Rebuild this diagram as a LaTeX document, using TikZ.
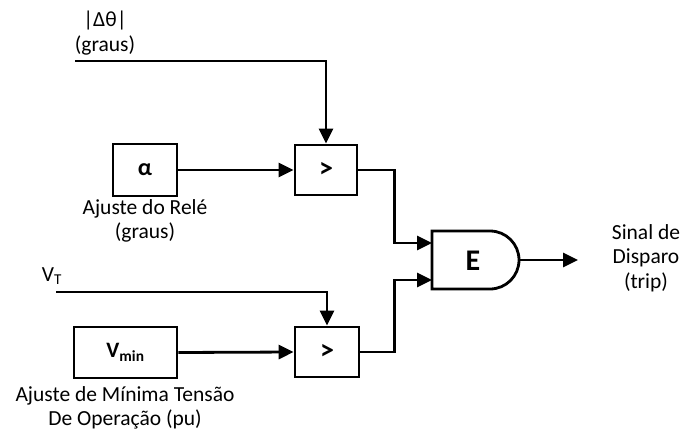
\documentclass[tikz,border=0pt]{standalone}
\usepackage{fontspec}
\setmainfont{Carlito}
\usetikzlibrary{arrows.meta}
\begin{document}
\begin{tikzpicture}[x=1pt,y=-1pt,line width=2.8pt,
  blk/.style={draw,rectangle,inner sep=0pt,font=\fontsize{22}{24}\selectfont\bfseries},
  cmpbox/.style={blk,font=\fontsize{28}{28}\selectfont\bfseries},
  lbl/.style={align=center,inner sep=0pt,font=\fontsize{21.5}{24.5}\selectfont},
  arr/.style={-{Triangle[length=15pt,width=14pt]}}]
\useasboundingbox (0,0) rectangle (684,441);

% blocks
\node[blk,minimum width=64pt,minimum height=52pt,font=\fontsize{24}{24}\selectfont\bfseries] (alpha) at (145,170) {α};
\node[cmpbox,minimum width=62pt,minimum height=50pt] (cmp1) at (326,170) {>};
\node[blk,minimum width=103pt,minimum height=51pt] (vmin) at (125.5,352.5) {V\textsubscript{min}};
\node[cmpbox,minimum width=64pt,minimum height=50pt] (cmp2) at (327,352) {>};

% AND gate
\draw (432,231) -- (490,231) arc[start angle=-90,end angle=90,radius=29] -- (432,289) -- cycle;
\node[font=\fontsize{30}{30}\selectfont\bfseries] (gate) at (473,261) {E};
\coordinate (gin1) at (432,243);
\coordinate (gin2) at (432,280);
\coordinate (gout) at (519,260);
\coordinate (trip) at (578,260);

% free ends of the input lines
\coordinate (dtheta) at (75,61);
\coordinate (vt) at (56,292);

% connectors
\draw[arr] (dtheta) -| (cmp1.north);
\draw[arr] (alpha.east) -- (cmp1.west);
\draw[arr] (cmp1.east) -- ++(36,0) |- (gin1);
\draw[arr] (vt) -| (cmp2.north);
\draw[arr] (vmin.east) -- (cmp2.west);
\draw[arr] (cmp2.east) -- ++(34,0) |- (gin2);
\draw[arr] (gout) -- (trip);

% labels
\node[lbl] (lbtheta) at (105,33) {|Δθ|\\(graus)};
\node[lbl] (lbalpha) at (145,221) {Ajuste do Relé\\(graus)};
\node[lbl] (lbvt) at (52,276) {V\textsubscript{T}};
\node[lbl] (lbvmin) at (125,408) {Ajuste de Mínima Tensão\\De Operação (pu)};
\node[lbl] (lbtrip) at (646,258) {Sinal de\\Disparo\\(trip)};
\end{tikzpicture}
\end{document}
